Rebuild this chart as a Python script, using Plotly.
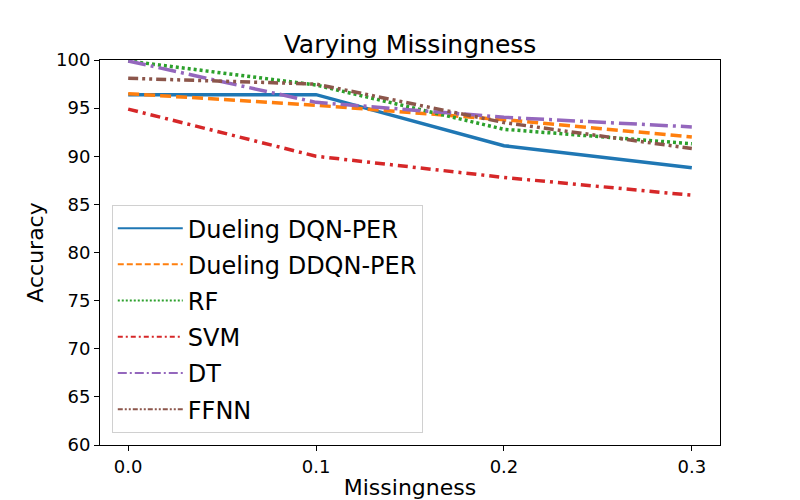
import plotly.graph_objects as go

# DATA
missingness = [0.0, 0.1, 0.2, 0.3]
dueling_dqn_per = [96.4, 96.4, 91.1, 88.8]
dueling_ddqn_per = [96.5, 95.3, 93.8, 92.0]
rf = [99.9, 97.4, 92.8, 91.3]
svm = [94.9, 90.0, 87.8, 85.95]
dt = [99.9, 95.6, 94.05, 93.05]
ffnn = [98.1, 97.5, 93.5, 90.8]

series = [
    ("Dueling DQN-PER", dueling_dqn_per, "#1f77b4", "solid", "solid"),
    ("Dueling DDQN-PER", dueling_ddqn_per, "#ff7f0e", "11px,5px", "6px,3px"),
    ("RF", rf, "#2ca02c", "3px,3px", "2px,2px"),
    ("SVM", svm, "#d62728", "10px,5px,3px,5px", "5px,3px,2px,3px"),
    ("DT", dt, "#9467bd", "18px,5px,3px,5px", "9px,3px,2px,3px"),
    ("FFNN", ffnn, "#8c564b", "10px,4px,3px,4px,3px,4px", "5px,2px,2px,2px,2px,2px"),
]

fig = go.Figure()
for i, (name, vals, color, dash, legend_dash) in enumerate(series):
    fig.add_trace(go.Scatter(x=missingness, y=vals, mode="lines", name=name,
                             showlegend=False,
                             line=dict(color=color, width=3.5, dash=dash)))
    # thinner line sample for the legend, like matplotlib
    fig.add_trace(go.Scatter(x=[None], y=[None], mode="lines", name=name,
                             legendgroup=str(i),
                             line=dict(color=color, width=2, dash=legend_dash)))

axis_style = dict(showline=True, linecolor="black", linewidth=1, mirror=True,
                  ticks="outside", ticklen=5, tickcolor="black",
                  showgrid=False, zeroline=False, automargin=False,
                  tickfont=dict(size=18, color="black"))

# the page body has an 8px margin, so the figure is a bit smaller than the window
fig.update_layout(
    width=792, height=492,
    font=dict(family="DejaVu Sans", color="black"),
    paper_bgcolor="white", plot_bgcolor="white",
    margin=dict(l=92, r=80, t=52, b=55),
    title=dict(text="Varying Missingness", x=0.5, xref="paper", xanchor="center",
               y=0.927, yanchor="middle", font=dict(size=25)),
    xaxis=dict(range=[-0.015, 0.315], tickvals=missingness, tickformat=".1f",
               title=dict(text="Missingness", font=dict(size=22), standoff=9),
               **axis_style),
    yaxis=dict(range=[60, 100], dtick=5,
               title=dict(text="Accuracy", font=dict(size=22), standoff=6),
               **axis_style),
    legend=dict(x=0.019, y=0.031, xanchor="left", yanchor="bottom",
                bgcolor="white", bordercolor="#d0d0d0", borderwidth=1,
                font=dict(size=24), itemwidth=65, tracegroupgap=2),
    showlegend=True,
)

fig.write_html("out.html")
